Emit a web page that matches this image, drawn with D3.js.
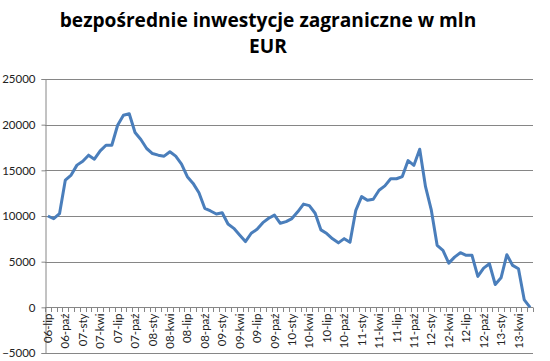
<!DOCTYPE html>
<html>
<head>
<meta charset="utf-8">
<script src="https://cdn.jsdelivr.net/npm/d3@7"></script>
<style>
  html, body { margin: 0; padding: 0; background: #fff; }
  svg { display: block; }
</style>
</head>
<body>
<div id="chart"></div>
<script>
const titleLines = ["bezpośrednie inwestycje zagraniczne w mln", "EUR"];

const categories = [
  "06-lip","06-sie","06-wrz","06-paź","06-lis","06-gru",
  "07-sty","07-lut","07-mar","07-kwi","07-maj","07-cze","07-lip","07-sie","07-wrz","07-paź","07-lis","07-gru",
  "08-sty","08-lut","08-mar","08-kwi","08-maj","08-cze","08-lip","08-sie","08-wrz","08-paź","08-lis","08-gru",
  "09-sty","09-lut","09-mar","09-kwi","09-maj","09-cze","09-lip","09-sie","09-wrz","09-paź","09-lis","09-gru",
  "10-sty","10-lut","10-mar","10-kwi","10-maj","10-cze","10-lip","10-sie","10-wrz","10-paź","10-lis","10-gru",
  "11-sty","11-lut","11-mar","11-kwi","11-maj","11-cze","11-lip","11-sie","11-wrz","11-paź","11-lis","11-gru",
  "12-sty","12-lut","12-mar","12-kwi","12-maj","12-cze","12-lip","12-sie","12-wrz","12-paź","12-lis","12-gru",
  "13-sty","13-lut","13-mar","13-kwi","13-maj","13-cze"
];

const values = [
  10000, 9700, 10250, 13930, 14480, 15570,
  16000, 16660, 16220, 17130, 17750, 17750, 19940, 21030, 21200, 19140, 18370, 17390,
  16840, 16660, 16550, 17030, 16550, 15680, 14300, 13570, 12550, 10840, 10550, 10220,
  10360, 9130, 8650, 7930, 7200, 8110, 8540, 9270, 9750, 10100, 9200, 9380,
  9720, 10460, 11300, 11140, 10300, 8480, 8080, 7500, 7060, 7520, 7120, 10620,
  12120, 11720, 11840, 12820, 13300, 14080, 14080, 14320, 16070, 15550, 17310, 13210,
  10640, 6790, 6240, 4840, 5500, 5980, 5690, 5690, 3380, 4290, 4770, 2500,
  3230, 5760, 4590, 4220, 810, 0
];

const tickLabels = [
  "06-lip","06-paź","07-sty","07-kwi","07-lip","07-paź","08-sty","08-kwi","08-lip","08-paź",
  "09-sty","09-kwi","09-lip","09-paź","10-sty","10-kwi","10-lip","10-paź","11-sty","11-kwi",
  "11-lip","11-paź","12-sty","12-kwi","12-lip","12-paź","13-sty","13-kwi"
];

const yTicks = [-5000, 0, 5000, 10000, 15000, 20000, 25000];

(function () {
const W = 550, H = 361;
const mLeft = 45, mRight = 533, mTop = 79, mBottom = 353;
const gridColor = "#868686";
const lineColor = "#4A7EBB";
const font = "Lato, 'Open Sans', sans-serif";

const svg = d3.select("#chart").append("svg")
  .attr("width", W).attr("height", H);

// Title
const title = svg.append("g").attr("font-family", "'Open Sans', Lato, sans-serif")
  .attr("font-weight", "bold").attr("fill", "#000");
const t1 = title.append("text").attr("x", 268).attr("y", 27)
  .attr("text-anchor", "middle").attr("font-size", 18).text(titleLines[0]);
const len = t1.node().getComputedTextLength();
const fs = 18 * 417 / len;
t1.attr("font-size", fs);
title.append("text").attr("x", 268).attr("y", 53)
  .attr("text-anchor", "middle").attr("font-size", fs).text(titleLines[1]);

// Scales
const x = d3.scaleBand().domain(categories).range([mLeft, mRight]).padding(0);
const y = d3.scaleLinear().domain([-5000, 25000]).range([mBottom, mTop]);

// Gridlines
svg.append("g").selectAll("line").data(yTicks).join("line")
  .attr("x1", mLeft).attr("x2", mRight)
  .attr("y1", d => Math.round(y(d)) + 0.5).attr("y2", d => Math.round(y(d)) + 0.5)
  .attr("stroke", gridColor).attr("stroke-width", 1);

// Y axis
const yAxis = d3.axisLeft(y).tickValues(yTicks).tickSize(4).tickPadding(6)
  .tickFormat(d3.format("d"));
const yG = svg.append("g").attr("transform", `translate(${mLeft + 0.5},0)`).call(yAxis);
yG.select(".domain").attr("stroke", gridColor);
yG.selectAll(".tick line").attr("stroke", gridColor);
yG.selectAll(".tick text").attr("font-family", font).attr("font-size", 11.5)
  .attr("fill", "#222").attr("x", -10);

// X axis at zero
const x0 = Math.round(y(0)) + 0.5;
const xG = svg.append("g");
xG.append("line").attr("x1", mLeft).attr("x2", mRight).attr("y1", x0).attr("y2", x0)
  .attr("stroke", gridColor);
const boundaries = categories.map(c => x(c)).concat([mRight]);
xG.selectAll("line.tk").data(boundaries).join("line").attr("class", "tk")
  .attr("x1", d => Math.round(d) + 0.5).attr("x2", d => Math.round(d) + 0.5)
  .attr("y1", x0).attr("y2", x0 + 4.5)
  .attr("stroke", gridColor).attr("stroke-width", 1);

xG.selectAll("text").data(tickLabels).join("text")
  .attr("transform", d => `translate(${x(d) + x.bandwidth() / 2},${x0 + 6}) rotate(-90)`)
  .attr("dy", "0.35em")
  .attr("text-anchor", "end")
  .attr("font-family", font).attr("font-size", 11.5).attr("fill", "#222")
  .text(d => d);

// Line
const line = d3.line()
  .x((d, i) => x(categories[i]) + x.bandwidth() / 2)
  .y(d => y(d));
svg.append("path").datum(values)
  .attr("d", line)
  .attr("fill", "none")
  .attr("stroke", lineColor)
  .attr("stroke-width", 3)
  .attr("stroke-linejoin", "round");
})();
</script>
</body>
</html>
